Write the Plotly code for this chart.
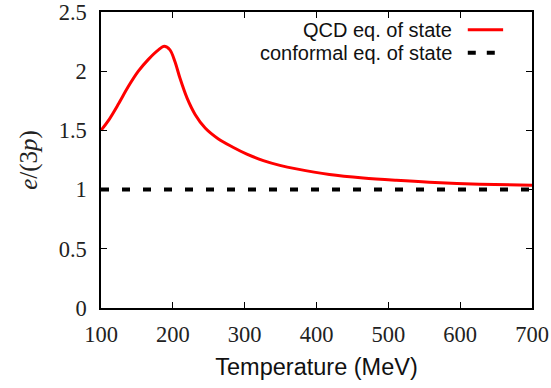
import plotly.graph_objects as go

T_qcd = [100, 110, 124, 138, 152, 166, 180, 188, 196, 203, 210, 220, 231, 245, 263, 283, 303, 326, 349, 372, 418, 465, 511, 557, 627, 700]
v_qcd = [1.50, 1.58, 1.72, 1.87, 2.00, 2.10, 2.18, 2.21, 2.18, 2.08, 1.94, 1.77, 1.635, 1.52, 1.43, 1.36, 1.30, 1.245, 1.205, 1.175, 1.128, 1.098, 1.078, 1.062, 1.046, 1.036]
T_conf = [100, 700]
v_conf = [1.0, 1.0]
legend_labels = ["QCD eq. of state", "conformal eq. of state"]
x_ticks = [100, 200, 300, 400, 500, 600, 700]
y_ticks = [0, 0.5, 1, 1.5, 2, 2.5]
y_tick_text = ["0", "0.5", "1", "1.5", "2", "2.5"]

fig = go.Figure()
fig.add_trace(go.Scatter(x=T_qcd, y=v_qcd, mode="lines",
                         line=dict(color="#ff0000", width=3, shape="spline", smoothing=0.9),
                         showlegend=False))
fig.add_trace(go.Scatter(x=T_conf, y=v_conf, mode="lines",
                         line=dict(color="black", width=4, dash="8px,13px"),
                         showlegend=False))

serif = "Liberation Serif"
sans = "Liberation Sans"

# legend drawn manually (text right-aligned, sample to the right)
leg_y = [0.940, 0.862]
for lab, yy in zip(legend_labels, leg_y):
    fig.add_annotation(xref="paper", yref="paper", x=0.818, y=yy, text=lab, showarrow=False,
                       xanchor="right", yanchor="middle", font=dict(family=sans, size=20, color="#111"))
fig.add_shape(type="line", xref="paper", yref="paper", x0=0.851, x1=0.933, y0=leg_y[0], y1=leg_y[0],
              line=dict(color="#ff0000", width=3))
fig.add_shape(type="line", xref="paper", yref="paper", x0=0.851, x1=0.933, y0=leg_y[1], y1=leg_y[1],
              line=dict(color="black", width=4, dash="8px,11px"))

axis_common = dict(showline=True, linecolor="black", linewidth=1.5, mirror="ticks",
                   ticks="inside", ticklen=6, tickwidth=1, tickcolor="black",
                   showgrid=False, zeroline=False, automargin=False, ticklabeloverflow="allow",
                   tickfont=dict(family=serif, size=22.5, color="#222"))

fig.update_xaxes(range=[100, 700], tickvals=x_ticks, ticklabelstandoff=5, **axis_common,
                 title=dict(text="Temperature (MeV)", font=dict(family=sans, size=23.5, color="#111"), standoff=13))
fig.update_yaxes(range=[0, 2.5], tickvals=y_ticks, ticktext=y_tick_text, ticklabelstandoff=8, **axis_common,
                 title=dict(text="<i>e</i>/(3<i>p</i>)", font=dict(family=serif, size=25, color="#222"), standoff=14))

fig.update_layout(width=551, height=388, margin=dict(l=101, r=19, t=12, b=80),
                  paper_bgcolor="white", plot_bgcolor="white")

fig.write_html("out.html")
